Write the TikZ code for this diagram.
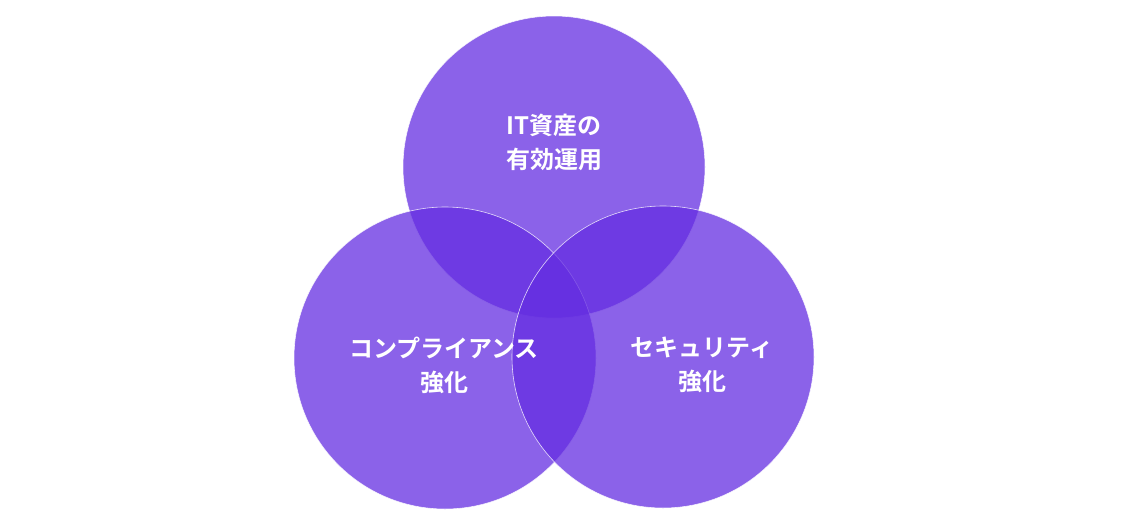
\documentclass[tikz,border=0pt]{standalone}
\usepackage{fontspec}
\newfontfamily\cjk{Noto Sans CJK JP}[BoldFont={Noto Sans CJK JP Bold}]
\definecolor{vp}{RGB}{100,45,225}
\begin{document}
\begin{tikzpicture}[x=1pt,y=-1pt,
  circ/.style={circle,minimum size=302pt,inner sep=0pt,fill=vp,fill opacity=0.75,draw=white,draw opacity=0.8,line width=0.6pt},
  lab/.style={text=white,font=\cjk\bfseries\fontsize{24}{34}\selectfont,align=center}]
\useasboundingbox (0,0) rectangle (1134,520);
\node[circ] (top) at (554,167) {};
\node[circ] (left) at (445,358) {};
\node[circ] (right) at (663,357) {};
\node[lab] (t1) at (554,142) {IT資産の\\有効運用};
\node[lab] (l1) at (444,365) {コンプライアンス\\強化};
\node[lab] (r1) at (702,365) {セキュリティ\\強化};
\end{tikzpicture}
\end{document}
